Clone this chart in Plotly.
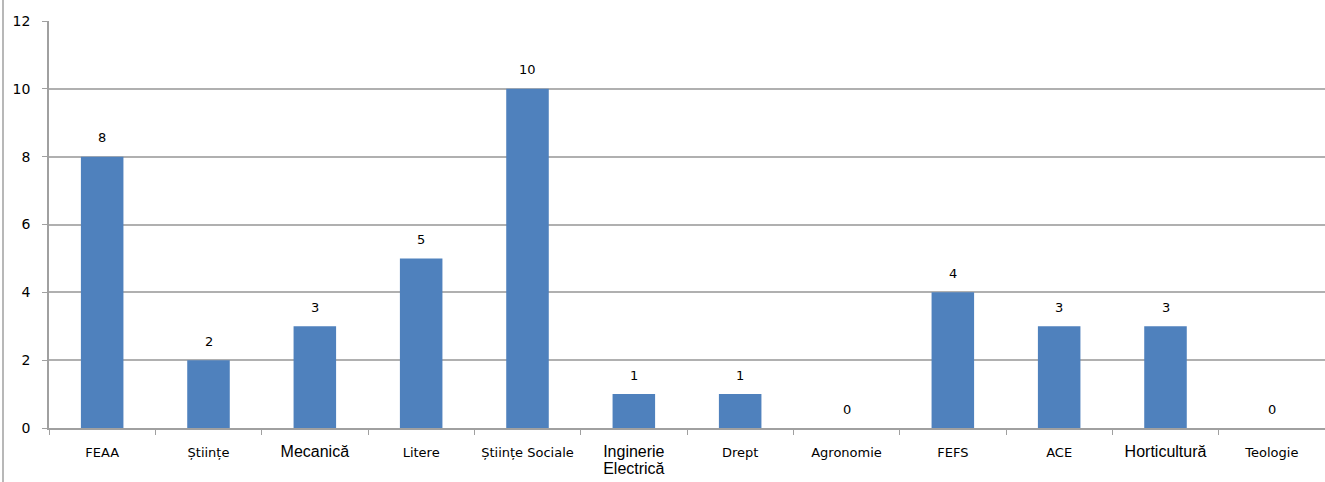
import plotly.graph_objects as go

categories = ["FEAA", "Științe", "Mecanică", "Litere", "Științe Sociale", "Inginerie Electrică",
              "Drept", "Agronomie", "FEFS", "ACE", "Horticultură", "Teologie"]
values = [8, 2, 3, 5, 10, 1, 1, 0, 4, 3, 3, 0]
big = "font-family:Liberation Sans;font-size:16px"
tick_labels = ["FEAA", "Științe", f"<span style='{big}'>Mecanică</span>", "Litere",
               "Științe Sociale", f"<span style='{big}'>Inginerie<br>Electrică</span>",
               "Drept", "Agronomie", "FEFS", "ACE",
               f"<span style='{big}'>Horticultură</span>", "Teologie"]
y_ticks = [0, 2, 4, 6, 8, 10, 12]

fig = go.Figure(go.Bar(
    x=categories, y=values,
    marker=dict(color="#4F81BD", line=dict(width=0)),
))

annotations = [dict(x=c, y=v, xref="x", yref="y", text=str(v), showarrow=False,
                    yanchor="middle", yshift=19, font=dict(size=13, color="#000000"))
               for c, v in zip(categories, values)]

fig.update_layout(
    width=1325, height=482,
    margin=dict(l=49, r=0, t=21, b=54),
    paper_bgcolor="white", plot_bgcolor="white",
    font=dict(family="DejaVu Sans, sans-serif", size=13, color="#000000"),
    bargap=0.6, showlegend=False,
    annotations=annotations,
    shapes=[dict(type="line", xref="paper", yref="paper", x0=-46/1276, x1=-46/1276,
                 y0=-54/407, y1=1 + 21/407, line=dict(color="#A0A0A0", width=1.5))],
)
fig.update_xaxes(
    type="category", tickmode="array", tickvals=categories, ticktext=tick_labels,
    tickson="boundaries", ticks="outside", ticklen=5, tickcolor="#A0A0A0",
    showline=True, linecolor="#A0A0A0", linewidth=1.5, showgrid=False,
    tickfont=dict(size=13), range=[-0.5, 11.5], ticklabelstandoff=12,
)
fig.update_yaxes(
    range=[0, 12], tickvals=y_ticks, ticks="outside", ticklen=5, tickcolor="#A0A0A0",
    showline=True, linecolor="#A0A0A0", linewidth=1.5,
    showgrid=True, gridcolor="#B0B0B0", gridwidth=1.5, zeroline=False,
    tickfont=dict(size=14), ticklabelstandoff=9,
)

fig.write_html("out.html", config={"displayModeBar": False},
               post_script="document.body.style.margin='0';")
